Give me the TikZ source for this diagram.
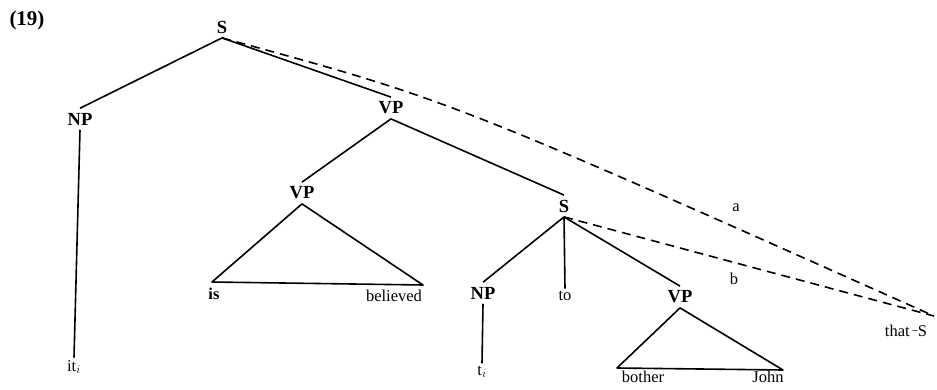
\documentclass[tikz,border=0pt]{standalone}
\usepackage{fontspec}
\setmainfont{Liberation Serif}
\begin{document}
\begin{tikzpicture}[x=1pt,y=-1pt,
  cat/.style={font=\fontsize{18.5}{18.5}\selectfont\bfseries, inner sep=4.5pt},
  word/.style={font=\fontsize{16.5}{16.5}\selectfont, inner sep=2.5pt},
  edge/.style={line width=1.6pt},
  movline/.style={line width=1.6pt, dash pattern=on 9pt off 6pt}]
\useasboundingbox (0,0) rectangle (937,390);
\node[font=\fontsize{21}{21}\selectfont\bfseries] (num) at (27,20) {(19)};
% category nodes
\node[cat] (S1) at (222,27) {S};
\node[cat] (NP1) at (80,119) {NP};
\node[cat] (VP1) at (391,108) {VP};
\node[cat] (VP2) at (302,193) {VP};
\node[cat] (S2) at (564,206) {S};
\node[cat] (NP2) at (483,293) {NP};
\node[cat] (VP3) at (680,297) {VP};
% words
\node[word] (it) at (74,367) {it$_i$};
\node[word,font=\fontsize{16.5}{16.5}\selectfont\bfseries] (is) at (214,294) {is};
\node[word] (bel) at (394,296) {believed};
\node[word] (ti) at (482,372) {t$_i$};
\node[word] (to) at (565,296) {to};
\node[word] (bot) at (643,377) {bother};
\node[word] (john) at (768,377) {John};
\node[word] (that) at (906,331) {that\,\raisebox{0.45ex}{\fontsize{11}{11}\selectfont--}S};
\node[word] (la) at (736,208) {a};
\node[word] (lb) at (734,279) {b};
% triangle corners and dashed end
\coordinate (isC) at (212,282);
\coordinate (belC) at (423,285);
\coordinate (botC) at (617,368);
\coordinate (johnC) at (783,370);
\coordinate (E) at (934,316);
% tree edges
\draw[edge] (S1.south) -- (NP1.north);
\draw[edge] (S1.south) -- (VP1.north);
\draw[edge] (NP1.south) -- (it.north);
\draw[edge] (VP1.south) -- (VP2.north);
\draw[edge] (VP1.south) -- (S2.north);
\draw[edge,line join=round] (VP2.south) -- (isC) -- (belC) -- cycle;
\draw[edge] (S2.south) -- (NP2.north);
\draw[edge] (S2.south) -- (to.north);
\draw[edge] (S2.south) -- (VP3.north);
\draw[edge] (NP2.south) -- (ti.north);
\draw[edge,line join=round] (VP3.south) -- (botC) -- (johnC) -- cycle;
% dashed movement lines
\draw[movline] (S1.south) .. controls (450,100) .. (E);
\draw[movline] (S2.south) -- (E);
\end{tikzpicture}
\end{document}
